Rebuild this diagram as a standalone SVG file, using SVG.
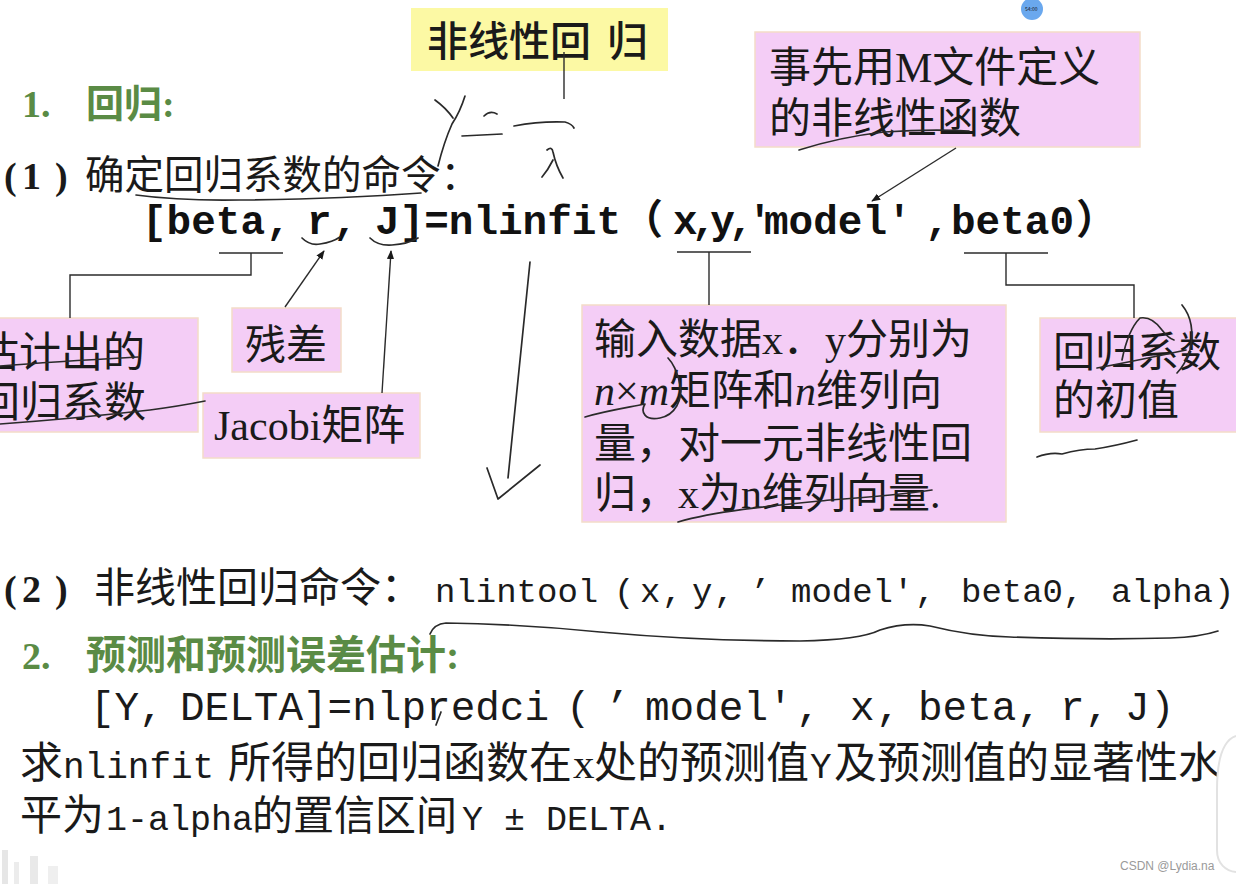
<svg xmlns="http://www.w3.org/2000/svg" width="1236" height="884" viewBox="0 0 1236 884">
<defs>
<style>
.bg{fill:#ffffff}
.pink{fill:#f4cdf6;stroke:#f3dcc8;stroke-width:1.5}
.yellow{fill:#fcf9a4}
.t{font-family:"Liberation Serif","Noto Sans CJK SC",serif;fill:#1a1a1a}
.cjk{font-family:"Noto Sans CJK SC",sans-serif;fill:#1a1a1a}
.mono{font-family:"Liberation Mono","DejaVu Sans Mono","Noto Sans CJK SC",monospace;fill:#1a1a1a}
.monob{font-family:"Liberation Mono","DejaVu Sans Mono","Noto Sans CJK SC",monospace;font-weight:bold;fill:#111}
.green{font-family:"Liberation Serif","Noto Sans CJK SC",serif;font-weight:bold;fill:#5a8b45}
.conn{fill:none;stroke:#2b2b2b;stroke-width:1.4}
.hand{fill:none;stroke:#2a2a2a;stroke-width:1.7;stroke-linecap:round;stroke-linejoin:round}
</style>
<marker id="ah" viewBox="0 0 10 10" refX="9" refY="5" markerWidth="9" markerHeight="9" markerUnits="userSpaceOnUse" orient="auto">
<path d="M0,1 L10,5 L0,9 Z" fill="#1a1a1a"/>
</marker>
</defs>
<rect class="bg" x="0" y="0" width="1236" height="884"/>

<!-- headings and body text -->
<g id="heading1">
<text class="green" font-size="38" y="117"><tspan x="22">1.</tspan><tspan x="86">回归:</tspan></text>
</g>
<g id="line-1">
<text class="t" font-size="38" y="189"><tspan x="4" font-weight="bold">(</tspan><tspan x="22" font-weight="bold">1</tspan><tspan x="55" font-weight="bold">)</tspan><tspan x="85" font-size="39.5">确定回归系数的命令：</tspan></text>
</g>
<g id="formula-nlinfit">
<text class="monob" font-size="41" y="234"><tspan x="142">[beta</tspan><tspan x="266">,</tspan><tspan x="307">r</tspan><tspan x="333">,</tspan><tspan x="375">J]=nlinfit</tspan><tspan x="622">（</tspan><tspan x="673" letter-spacing="-6">x,y,′</tspan><tspan x="764" letter-spacing="0">model</tspan><tspan x="887">′</tspan><tspan x="925">,</tspan><tspan x="951">beta0</tspan><tspan x="1076">）</tspan></text>
</g>
<g id="line-2">
<text class="t" font-size="38" y="602"><tspan x="4" font-weight="bold">(</tspan><tspan x="22" font-weight="bold">2</tspan><tspan x="55" font-weight="bold">)</tspan><tspan x="94" font-size="41">非线性回归命令：</tspan></text>
<text class="mono" font-size="34" y="602"><tspan x="435">nlintool</tspan><tspan x="614">(</tspan><tspan x="640">x</tspan><tspan x="662">,</tspan><tspan x="692">y</tspan><tspan x="714">,</tspan><tspan x="750">’</tspan><tspan x="791">model′</tspan><tspan x="915">,</tspan><tspan x="961">beta0</tspan><tspan x="1063">,</tspan><tspan x="1111">alpha</tspan><tspan x="1214">)</tspan></text>
</g>
<g id="heading2">
<text class="green" font-size="38" y="669"><tspan x="22">2.</tspan><tspan x="86" font-size="40">预测和预测误差估计:</tspan></text>
</g>
<g id="formula-nlpredci">
<text class="mono" font-size="41" y="720"><tspan x="90">[Y</tspan><tspan x="139">,</tspan><tspan x="180">DELTA]=nlpredci</tspan><tspan x="566">(</tspan><tspan x="605">’</tspan><tspan x="645">model′</tspan><tspan x="796">,</tspan><tspan x="850">x</tspan><tspan x="876">,</tspan><tspan x="918">beta</tspan><tspan x="1017">,</tspan><tspan x="1060">r</tspan><tspan x="1085">,</tspan><tspan x="1125">J</tspan><tspan x="1150">)</tspan></text>
</g>
<g id="desc">
<text class="t" font-size="43" y="778"><tspan x="20">求</tspan><tspan class="mono" font-size="36" x="63">nlinfit</tspan><tspan x="228">所得的回归函数在</tspan><tspan x="573">x</tspan><tspan x="594">处的预测值</tspan><tspan class="mono" font-size="36" x="810">Y</tspan><tspan x="834">及预测值的显著性水</tspan></text>
<text class="t" font-size="42" y="830"><tspan x="20">平为</tspan><tspan class="mono" font-size="35" x="106">1-alpha</tspan><tspan x="252" font-size="41">的置信区间</tspan><tspan class="mono" font-size="35" x="462">Y ± DELTA.</tspan></text>
</g>

<!-- callout nodes -->
<g id="node-nonlinear">
<rect class="yellow" x="411" y="8" width="257" height="63"/>
<text class="cjk" font-size="41" font-weight="500" y="56"><tspan x="427">非线性回</tspan><tspan x="607">归</tspan></text>
</g>
<g id="node-model">
<rect class="pink" x="755" y="32" width="385" height="115"/>
<text class="t" font-size="42" x="769" y="82">事先用M文件定义</text>
<text class="t" font-size="42" x="769" y="133">的非线性函数</text>
</g>
<g id="node-beta">
<rect class="pink" x="-2" y="318" width="200" height="114"/>
<text class="t" font-size="42" x="-23" y="367">估计出的</text>
<text class="t" font-size="42" x="-22" y="417">回归系数</text>
</g>
<g id="node-r">
<rect class="pink" x="232" y="308" width="109" height="64"/>
<text class="t" font-size="41" x="245" y="359">残差</text>
</g>
<g id="node-J">
<rect class="pink" x="203" y="393" width="217" height="65"/>
<text class="t" font-size="42" x="214" y="440">Jacobi矩阵</text>
</g>
<g id="node-xy">
<rect class="pink" x="582" y="305" width="424" height="217"/>
<text class="t" font-size="42" y="354"><tspan x="594">输入数据x．y分别为</tspan></text>
<text class="t" font-size="42" y="405"><tspan x="594" font-style="italic">n</tspan><tspan>×</tspan><tspan font-style="italic">m</tspan><tspan>矩阵和</tspan><tspan font-style="italic">n</tspan><tspan>维列向</tspan></text>
<text class="t" font-size="42" y="458"><tspan x="594">量，对一元非线性回</tspan></text>
<text class="t" font-size="42" y="508"><tspan x="594">归，x为n维列向量.</tspan></text>
</g>
<g id="node-beta0">
<rect class="pink" x="1040" y="318" width="198" height="114"/>
<text class="t" font-size="42" x="1053" y="367">回归系数</text>
<text class="t" font-size="42" x="1053" y="415">的初值</text>
</g>

<!-- connectors -->
<g id="connectors">
<polyline class="conn" points="219,253 283,253"/>
<polyline class="conn" points="251,253 251,275 70,275 70,318"/>
<line class="conn" x1="285" y1="307" x2="324" y2="251" marker-end="url(#ah)"/>
<line class="conn" x1="382" y1="393" x2="391" y2="251" marker-end="url(#ah)"/>
<polyline class="conn" points="677,252 751,252"/>
<polyline class="conn" points="709,252 709,305"/>
<polyline class="conn" points="964,253 1048,253"/>
<polyline class="conn" points="1006,253 1006,285 1134,285 1134,318"/>
<line class="conn" x1="956" y1="148" x2="872" y2="201" marker-end="url(#ah)"/>
<line class="conn" x1="564" y1="52" x2="564" y2="99"/>
</g>

<!-- handwritten annotations -->
<g id="handwriting">
<path class="hand" d="M435,100 Q446,108 453,118"/>
<path class="hand" d="M465,96 Q460,112 452,124 Q444,142 438,166"/>
<path class="hand" d="M484,116 Q490,110 497,114"/>
<path class="hand" d="M462,136 L502,134"/>
<path class="hand" d="M514,126 Q540,121 565,122 Q572,124 574,128"/>
<path class="hand" d="M547,150 Q552,146 553,152 Q556,166 563,178"/>
<path class="hand" d="M553,160 Q548,170 542,177"/>
<path class="hand" d="M136,195 Q180,201 240,200 Q340,199 421,193"/>
<path class="hand" d="M302,238 Q310,246 320,244 Q333,242 340,237"/>
<path class="hand" d="M370,238 Q378,246 392,245 Q408,244 418,238"/>
<path class="hand" d="M530,262 L508,478"/>
<path class="hand" d="M487,468 L498,499 L540,465"/>
<path class="hand" d="M799,150 Q840,137 884,132 Q930,129 969,131"/>
<path class="hand" d="M0,366 Q50,362 138,357"/>
<path class="hand" d="M0,424 Q70,419 150,410 Q180,406 205,401"/>
<path class="hand" d="M585,417 C605,411 625,408 645,404 C640,412 645,421 660,418 C675,415 683,400 680,385 C678,372 672,362 668,358"/>
<path class="hand" d="M678,522 C720,510 780,505 830,500 C870,497 905,494 932,490"/>
<path class="hand" d="M1097,368 Q1140,360 1186,350"/>
<path class="hand" d="M1122,360 Q1128,330 1140,318 Q1152,316 1162,330 Q1168,338 1174,340"/>
<path class="hand" d="M1182,305 Q1196,322 1190,350 Q1185,365 1177,373"/>
<path class="hand" d="M1037,457 Q1050,452 1062,454 Q1080,449 1095,449 Q1115,446 1137,440"/>
<path class="hand" d="M430,634 Q434,624 446,623 Q520,624 600,632 Q700,641 800,641 Q860,640 880,630 Q905,622 930,626 Q970,636 1010,637 Q1100,640 1170,638 Q1200,637 1218,631"/>
<path class="hand" d="M441,712 L436,725" stroke-width="1.2"/>
</g>

<!-- screen artifacts -->
<g id="overlay">
<circle cx="1032" cy="9" r="11" fill="#6aa8ee"/>
<text class="cjk" font-size="5" fill="#ffffff" x="1025" y="11">54:00</text>
<path d="M1236,736 C1224,740 1217,758 1217,790 L1217,850 C1217,864 1226,871 1236,872" fill="#ffffff" stroke="#e2e2e2" stroke-width="2"/>
<rect x="2" y="850" width="6" height="34" fill="#e6e6e6"/>
<rect x="14" y="862" width="5" height="22" fill="#ececec"/>
<rect x="30" y="856" width="8" height="28" fill="#e9e9e9"/>
<rect x="48" y="866" width="10" height="18" fill="#efefef"/>
<text font-family="Liberation Sans, sans-serif" font-size="12" fill="#9a9a9a" x="1120" y="870">CSDN @Lydia.na</text>
</g>
</svg>
